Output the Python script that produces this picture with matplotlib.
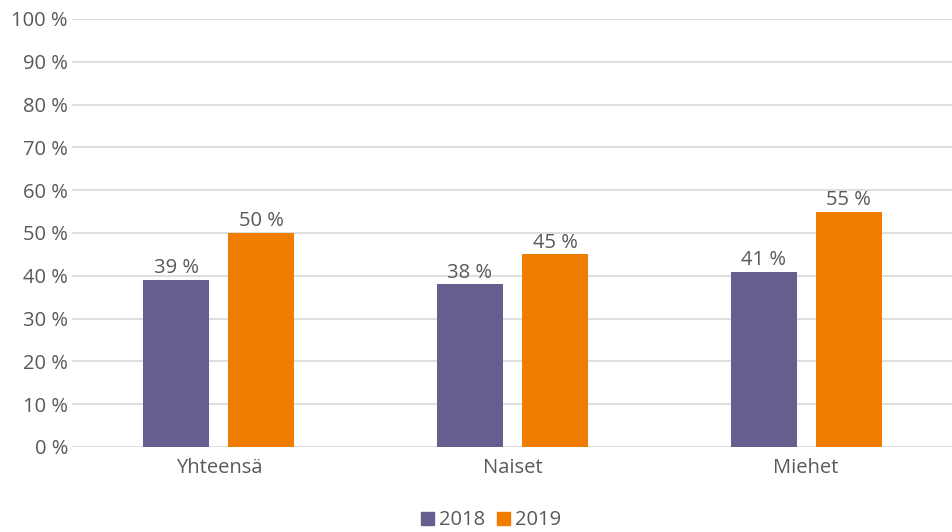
import numpy as np
import matplotlib.pyplot as plt
from matplotlib.patches import Patch

plt.rcParams['font.family'] = ['Open Sans', 'DejaVu Sans']

categories = ['Yhteensä', 'Naiset', 'Miehet']
years = ['2018', '2019']
values_2018 = [39, 38, 41]
values_2019 = [50, 45, 55]
yticks = list(range(0, 101, 10))

purple = '#655E8E'
orange = '#EF7D00'
text_grey = '#595959'
fs = 14.5

fig = plt.figure(figsize=(9.53, 5.32), dpi=100)
ax = fig.add_axes([0.0756, 0.1598, 0.9244, 0.8045])

x = np.arange(len(categories))
width = 0.225
offset = 0.145

b1 = ax.bar(x - offset, values_2018, width, color=purple, zorder=3)
b2 = ax.bar(x + offset, values_2019, width, color=orange, zorder=3)

for bars, vals in ((b1, values_2018), (b2, values_2019)):
    for rect, v in zip(bars, vals):
        ax.text(rect.get_x() + rect.get_width() / 2, v + 0.4, f'{v} %',
                ha='center', va='bottom', fontsize=fs, color=text_grey)

ax.set_xlim(-0.5, len(categories) - 0.5)
ax.set_ylim(0, 100)
ax.set_yticks(yticks)
ax.set_yticklabels([f'{t} %' for t in yticks])
ax.set_xticks(x)
ax.set_xticklabels(categories)

ax.yaxis.grid(True, color='#D9D9D9', linewidth=1.2, zorder=0)
ax.tick_params(axis='y', length=0, pad=3, labelsize=fs, labelcolor=text_grey)
ax.tick_params(axis='x', length=0, pad=8, labelsize=fs, labelcolor=text_grey)
for s in ax.spines.values():
    s.set_visible(False)

handles = [Patch(color=purple), Patch(color=orange)]
fig.legend(handles, years, loc='center', bbox_to_anchor=(0.515, 0.022),
           ncol=2, frameon=False, fontsize=fs, labelcolor=text_grey,
           handlelength=0.65, handleheight=0.65, handletextpad=0.25,
           columnspacing=0.6)

fig.savefig('out.png', dpi=100)
